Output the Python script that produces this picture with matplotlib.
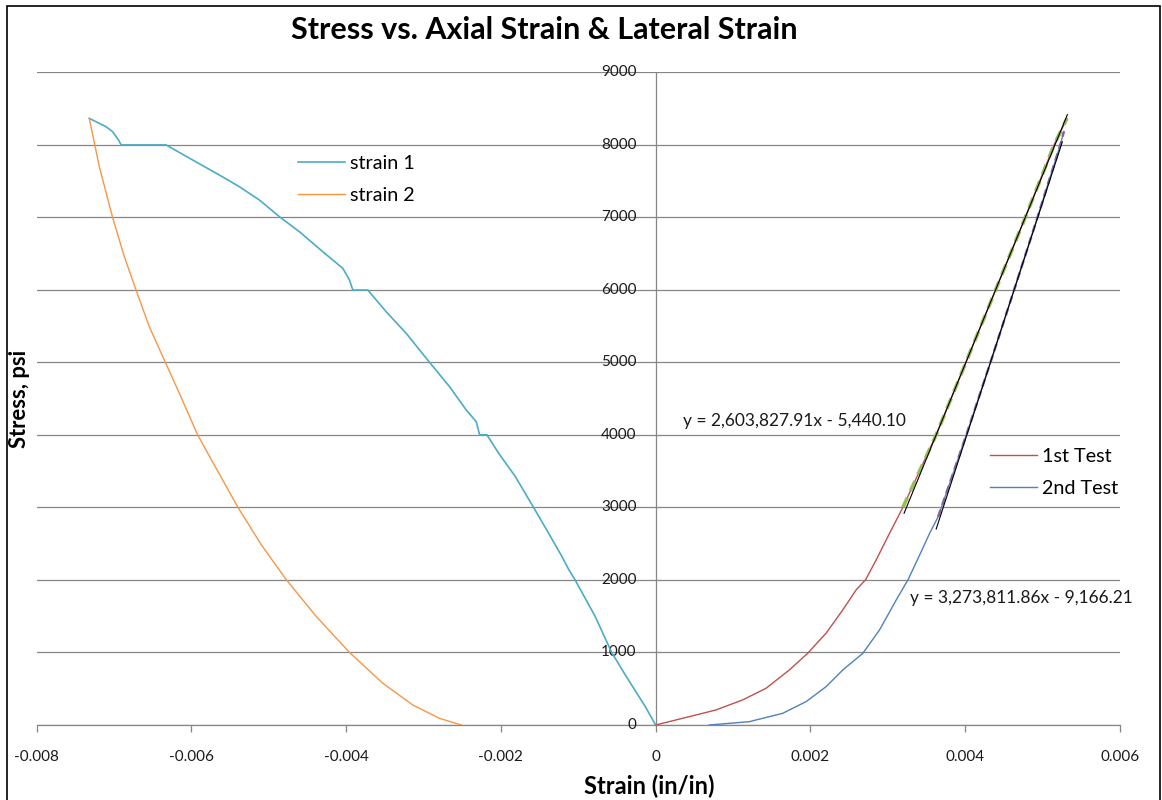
import matplotlib
matplotlib.use("Agg")
import matplotlib.pyplot as plt
from matplotlib.patches import Rectangle
import numpy as np

plt.rcParams['font.family'] = ['Lato', 'DejaVu Sans']

# ---------------- data ----------------
# Lateral strain gauges (negative strain)
strain1_x = [-0.007318, -0.007102, -0.007016, -0.006938, -0.006907, -0.006326, -0.005982,
             -0.005637, -0.005378, -0.005119, -0.004860, -0.004602, -0.004301, -0.004042,
             -0.003956, -0.003913, -0.003719, -0.003482, -0.003223, -0.002922, -0.002663,
             -0.002447, -0.002318, -0.002275, -0.002181, -0.002030, -0.001815, -0.001578,
             -0.001385, -0.001213, -0.001127, -0.001041, -0.000783, -0.000568, -0.000396,
             -0.000138, 0.0]
strain1_y = [8361, 8246, 8177, 8060, 7995, 7995, 7787,
             7580, 7419, 7235, 7005, 6798, 6523, 6294,
             6133, 5995, 5995, 5696, 5398, 4999, 4663,
             4341, 4180, 4000, 4000, 3748, 3427, 3000,
             2647, 2326, 2151, 2000, 1500, 1000, 697,
             261, 0]

strain2_x = [-0.007318, -0.007188, -0.007016, -0.006865, -0.006714, -0.006542, -0.006335,
             -0.006154, -0.005917, -0.005680, -0.005400, -0.005098, -0.004774, -0.004387,
             -0.003956, -0.003526, -0.003138, -0.002793, -0.002512]
strain2_y = [8361, 7694, 6992, 6454, 5995, 5489, 4998,
             4571, 3997, 3540, 3005, 2488, 2005, 1498,
             1000, 576, 276, 92, 0]

# Axial strain tests
test1_x = [0.0, 0.000346, 0.000778, 0.001123, 0.001426, 0.001728, 0.001965, 0.002203,
           0.002419, 0.002592, 0.002713, 0.002851, 0.003024, 0.003195, 0.003625, 0.004010,
           0.004394, 0.004778, 0.005150, 0.005315]
test1_y = [0, 92, 207, 345, 506, 759, 989, 1266,
           1588, 1864, 2002, 2278, 2646, 3000, 4000, 5000,
           6000, 7000, 8000, 8360]

test2_x = [0.000691, 0.001210, 0.001641, 0.001944, 0.002203, 0.002419, 0.002678, 0.002894,
           0.003110, 0.003261, 0.003413, 0.003542, 0.003650, 0.003693, 0.004015, 0.004327,
           0.004633, 0.004935, 0.005230, 0.005275]
test2_y = [0, 46, 161, 322, 529, 759, 989, 1312,
           1726, 2002, 2347, 2646, 2870, 3000, 4000, 5000,
           6000, 7000, 8000, 8180]

# linear fit sections (start stress of fitted subset)
fit1_start = 3000
fit2_start = 2800

# trendline coefficients and x extents
trend1_slope, trend1_icpt = 2603827.91, -5440.10
trend2_slope, trend2_icpt = 3273811.86, -9166.21
trend1_xrange = [0.00321, 0.00532]
trend2_xrange = [0.003625, 0.005255]

trend1_label = "y = 2,603,827.91x - 5,440.10"
trend2_label = "y = 3,273,811.86x - 9,166.21"

x_ticks = [-0.008, -0.006, -0.004, -0.002, 0, 0.002, 0.004, 0.006]
x_ticklabels = ["-0.008", "-0.006", "-0.004", "-0.002", "0", "0.002", "0.004", "0.006"]
y_ticks = [0, 1000, 2000, 3000, 4000, 5000, 6000, 7000, 8000, 9000]

# ---------------- figure ----------------
W, H = 1162, 800
fig = plt.figure(figsize=(W / 100, H / 100), dpi=100)
fig.patch.set_facecolor('white')

left_px, right_px, top_px, bot_px = 36.5, 1120, 72, 725
ax = fig.add_axes([left_px / W, 1 - bot_px / H, (right_px - left_px) / W, (bot_px - top_px) / H])
ax.set_xlim(-0.008, 0.006)
ax.set_ylim(0, 9000)

grid_c = '#868686'
for yv in y_ticks:
    ax.axhline(yv, color=grid_c, lw=0.9, zorder=1)
ax.axvline(0, color=grid_c, lw=0.9, zorder=1)

for s in ['top', 'right', 'left']:
    ax.spines[s].set_visible(False)
ax.spines['bottom'].set_color(grid_c)
ax.spines['bottom'].set_linewidth(0.9)

ax.set_xticks(x_ticks)
ax.set_xticklabels(x_ticklabels)
ax.tick_params(axis='x', direction='out', length=5, width=0.9, color=grid_c,
               pad=13, labelsize=11, labelcolor='#1a1a1a')
ax.set_yticks(y_ticks)
ax.set_yticklabels([])
ax.tick_params(axis='y', length=0)
# y tick labels next to the vertical axis at x = 0
for yv in y_ticks:
    ax.annotate(str(yv), xy=(0, yv), xytext=(-19, 0), textcoords='offset pixels',
                ha='right', va='center', fontsize=11, color='#1a1a1a')

teal = '#4BACC6'
orange = '#F79646'
red = '#C0504D'
blue = '#4F81BD'
green = '#9BBB59'
purple = '#8064A2'

l1, = ax.plot(strain1_x, strain1_y, color=teal, lw=1.2, zorder=3, label='strain 1')
l2, = ax.plot(strain2_x, strain2_y, color=orange, lw=1.0, zorder=3, label='strain 2')
l3, = ax.plot(test1_x, test1_y, color=red, lw=1.0, zorder=3, label='1st Test')
l4, = ax.plot(test2_x, test2_y, color=blue, lw=1.0, zorder=3, label='2nd Test')

t1x = np.array(test1_x); t1y = np.array(test1_y)
t2x = np.array(test2_x); t2y = np.array(test2_y)
m1 = t1y >= fit1_start
m2 = t2y >= fit2_start
ax.plot(t1x[m1], t1y[m1], color=green, lw=2.6, ls=(0, (3, 2)), zorder=4)
ax.plot(t2x[m2], t2y[m2], color=purple, lw=1.8, ls=(0, (3, 2)), zorder=4)

tx1 = np.array(trend1_xrange)
tx2 = np.array(trend2_xrange)
ax.plot(tx1, trend1_slope * tx1 + trend1_icpt, color='black', lw=0.8, zorder=5)
ax.plot(tx2, trend2_slope * tx2 + trend2_icpt, color='black', lw=0.8, zorder=5)

# trendline equations
fig.text(683 / W, 1 - 421 / H, trend1_label, ha='left', va='center', fontsize=12.5, color='#1a1a1a')
fig.text(910 / W, 1 - 598 / H, trend2_label, ha='left', va='center', fontsize=12.5, color='#1a1a1a')

# legends
leg_kw = dict(loc='upper left', frameon=False, fontsize=14.2, handlelength=2.4,
              handletextpad=0.25, labelspacing=0.75, borderaxespad=0, borderpad=0.2)
leg1 = fig.legend(handles=[l1, l2], bbox_to_anchor=(294 / W, 1 - 151 / H), **leg_kw)
leg2 = fig.legend(handles=[l3, l4], bbox_to_anchor=(986 / W, 1 - 444 / H), **leg_kw)

# titles
fig.text(544 / W, 1 - 30 / H, "Stress vs. Axial Strain & Lateral Strain", ha='center', va='center',
         fontsize=22, fontweight='bold', color='black')
fig.text(649 / W, 1 - 786 / H, "Strain (in/in)", ha='center', va='center',
         fontsize=17, fontweight='bold', color='black')
fig.text(20 / W, 1 - 399 / H, "Stress, psi", ha='center', va='center', rotation=90,
         fontsize=15.8, fontweight='bold', color='black')

# chart area border
fig.patches.append(Rectangle((7 / W, -0.01), (1160 - 7) / W, 1 - 6 / H + 0.01,
                             transform=fig.transFigure, fill=False, edgecolor='black', lw=1.2))

fig.savefig('out.png', dpi=100)
